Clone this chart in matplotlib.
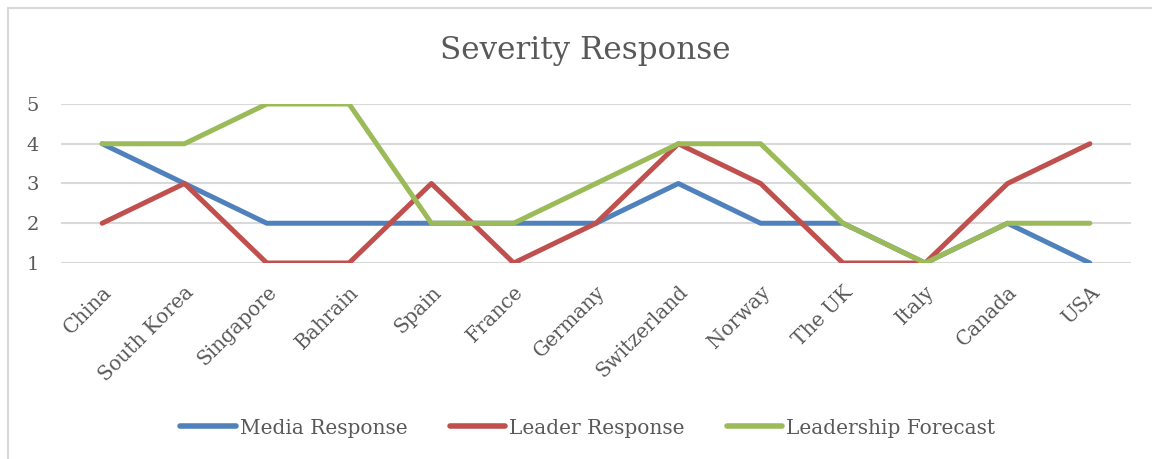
import matplotlib.pyplot as plt
from matplotlib.patches import Rectangle

countries = ['China', 'South Korea', 'Singapore', 'Bahrain', 'Spain', 'France',
             'Germany', 'Switzerland', 'Norway', 'The UK', 'Italy', 'Canada', 'USA']
media = [4, 3, 2, 2, 2, 2, 2, 3, 2, 2, 1, 2, 1]
leader = [2, 3, 1, 1, 3, 1, 2, 4, 3, 1, 1, 3, 4]
forecast = [4, 4, 5, 5, 2, 2, 3, 4, 4, 2, 1, 2, 2]
yticks = [1, 2, 3, 4, 5]

txt = '#595959'
plt.rcParams['font.family'] = ['DejaVu Serif']

fig = plt.figure(figsize=(11.52, 4.59), dpi=100)
# chart border
fig.patches.append(Rectangle((8/1152, -0.1), 1.2, 1 - 7.5/459 + 0.1,
                             transform=fig.transFigure, fill=False,
                             edgecolor='#d9d9d9', linewidth=1.5))

ax = fig.add_axes([61/1152, 1 - 263/459, (1131 - 61)/1152, (263 - 104)/459])
x = range(len(countries))
ax.plot(x, media, color='#4f81bd', lw=3.6, solid_capstyle='round', label='Media Response')
ax.plot(x, leader, color='#c0504d', lw=3.6, solid_capstyle='round', label='Leader Response')
ax.plot(x, forecast, color='#9bbb59', lw=3.6, solid_capstyle='round', label='Leadership Forecast')

ax.set_xlim(-0.5, len(countries) - 0.5)
ax.set_ylim(1, 5)
ax.set_yticks(yticks)
ax.set_yticklabels([str(v) for v in yticks], fontsize=14, color=txt)
ax.set_xticks(list(x))
ax.set_xticklabels(countries, rotation=45, ha='right', va='top',
                   rotation_mode='anchor', fontsize=14.3, color=txt)
ax.tick_params(length=0)
ax.tick_params(axis='y', pad=16)
ax.tick_params(axis='x', pad=14)
ax.grid(axis='y', color='#d9d9d9', lw=1.5)
ax.set_axisbelow(True)
for s in ax.spines.values():
    s.set_visible(False)

fig.text(585/1152, 1 - 50/459, 'Severity Response', ha='center', va='center',
         fontsize=22.3, color=txt)

leg = fig.legend(loc='center', bbox_to_anchor=(588/1152, 1 - 428/459), ncol=3,
                 frameon=False, fontsize=14.5, handlelength=2.75,
                 handletextpad=0.2, columnspacing=2.1, labelcolor=txt)
for h in leg.legend_handles:
    h.set_linewidth(4)

fig.savefig('out.png', dpi=100)
